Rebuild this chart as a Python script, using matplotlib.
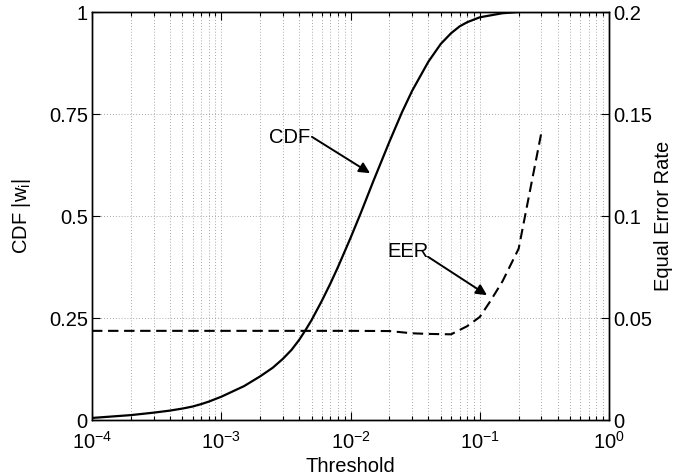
import numpy as np
import matplotlib
matplotlib.use('Agg')
import matplotlib.pyplot as plt

plt.rcParams['font.family'] = ['Liberation Sans', 'DejaVu Sans']
plt.rcParams['mathtext.fontset'] = 'custom'
plt.rcParams['mathtext.rm'] = 'Liberation Sans'
plt.rcParams['mathtext.it'] = 'Liberation Sans:italic'
plt.rcParams['mathtext.default'] = 'regular'

# data
thr_cdf = [1e-4, 2e-4, 3e-4, 4e-4, 5e-4, 6e-4, 7e-4, 8e-4, 1e-3, 1.5e-3, 2e-3,
           2.5e-3, 3e-3, 3.5e-3, 4e-3, 4.5e-3, 5e-3, 6e-3, 7e-3, 8e-3, 1e-2,
           1.2e-2, 1.5e-2, 2e-2, 2.5e-2, 3e-2, 4e-2, 5e-2, 6e-2, 7e-2, 8e-2,
           1e-1, 1.5e-1, 2e-1, 1.0]
cdf = [0.005, 0.012, 0.018, 0.023, 0.028, 0.033, 0.039, 0.045, 0.057, 0.083, 0.107,
       0.128, 0.150, 0.172, 0.196, 0.221, 0.245, 0.292, 0.335, 0.375, 0.446,
       0.507, 0.585, 0.682, 0.754, 0.807, 0.878, 0.922, 0.948, 0.965, 0.975,
       0.987, 0.997, 1.0, 1.0]

thr_eer = [1e-4, 1e-3, 1e-2, 2e-2, 3e-2, 4e-2, 6e-2, 8e-2, 1e-1, 1.2e-1, 1.5e-1, 2e-1, 3e-1]
eer = [0.0437, 0.0437, 0.0437, 0.0436, 0.0425, 0.0422, 0.0420, 0.0460, 0.0505,
       0.058, 0.068, 0.084, 0.141]

left_ticks = [0, 0.25, 0.5, 0.75, 1]
left_labels = ['0', '0.25', '0.5', '0.75', '1']
right_ticks = [0, 0.05, 0.1, 0.15, 0.2]
right_labels = ['0', '0.05', '0.1', '0.15', '0.2']

fs = 14.5

fig = plt.figure(figsize=(6.75, 4.76), dpi=100)
ax = fig.add_axes([92/675, 56/476, 517/675, 408/476])
ax2 = ax.twinx()

ax.semilogx(thr_cdf, cdf, color='k', lw=1.6)
ax2.semilogx(thr_eer, eer, color='k', lw=1.5, linestyle=(0, (5, 2.7)))

ax.set_xlim(1e-4, 1)
ax.set_ylim(0, 1)
ax2.set_ylim(0, 0.2)

ax.set_yticks(left_ticks)
ax.set_yticklabels(left_labels)
ax2.set_yticks(right_ticks)
ax2.set_yticklabels(right_labels)

gridkw = dict(linestyle=(0, (1, 2.5)), lw=0.6, color='0.55')
ax.grid(True, which='major', axis='both', **gridkw)
ax.grid(True, which='minor', axis='x', **gridkw)

ax.tick_params(which='both', direction='in', top=True, right=False, labelsize=fs)
ax.tick_params(axis='y', pad=3)
ax.tick_params(axis='x', pad=8)
ax.tick_params(which='major', length=5.5, width=0.8)
ax.tick_params(which='minor', length=3, width=0.8)
ax2.tick_params(which='both', direction='in', labelsize=fs, pad=3, length=5.5, width=0.8)
for a in (ax, ax2):
    for s in a.spines.values():
        s.set_linewidth(1.0)

ax.set_xlabel('Threshold', fontsize=fs)
ax.xaxis.set_label_coords(0.5, -0.113)
ax.xaxis.label.set_va('center')
ax.set_ylabel('CDF |w$_i$|', fontsize=fs)
ax.yaxis.set_label_coords(-0.137, 0.5)
ax.yaxis.label.set_va('center')
ax2.set_ylabel('Equal Error Rate', fontsize=fs)
ax2.yaxis.set_label_coords(1.106, 0.5)
ax2.yaxis.label.set_va('center')

arrow = dict(arrowstyle='-|>', color='k', lw=1.4, mutation_scale=16, shrinkA=0, shrinkB=0)
ax.annotate('', xy=(0.01416, 0.605), xytext=(5.03e-3, 0.694), arrowprops=arrow)
ax.text(4.9e-3, 0.68, 'CDF', fontsize=fs, ha='right', va='baseline')
ax.annotate('', xy=(0.1138, 0.306), xytext=(0.0398, 0.40), arrowprops=arrow)
ax.text(0.040, 0.40, 'EER', fontsize=fs, ha='right', va='baseline')

fig.savefig('out.png', dpi=100)
